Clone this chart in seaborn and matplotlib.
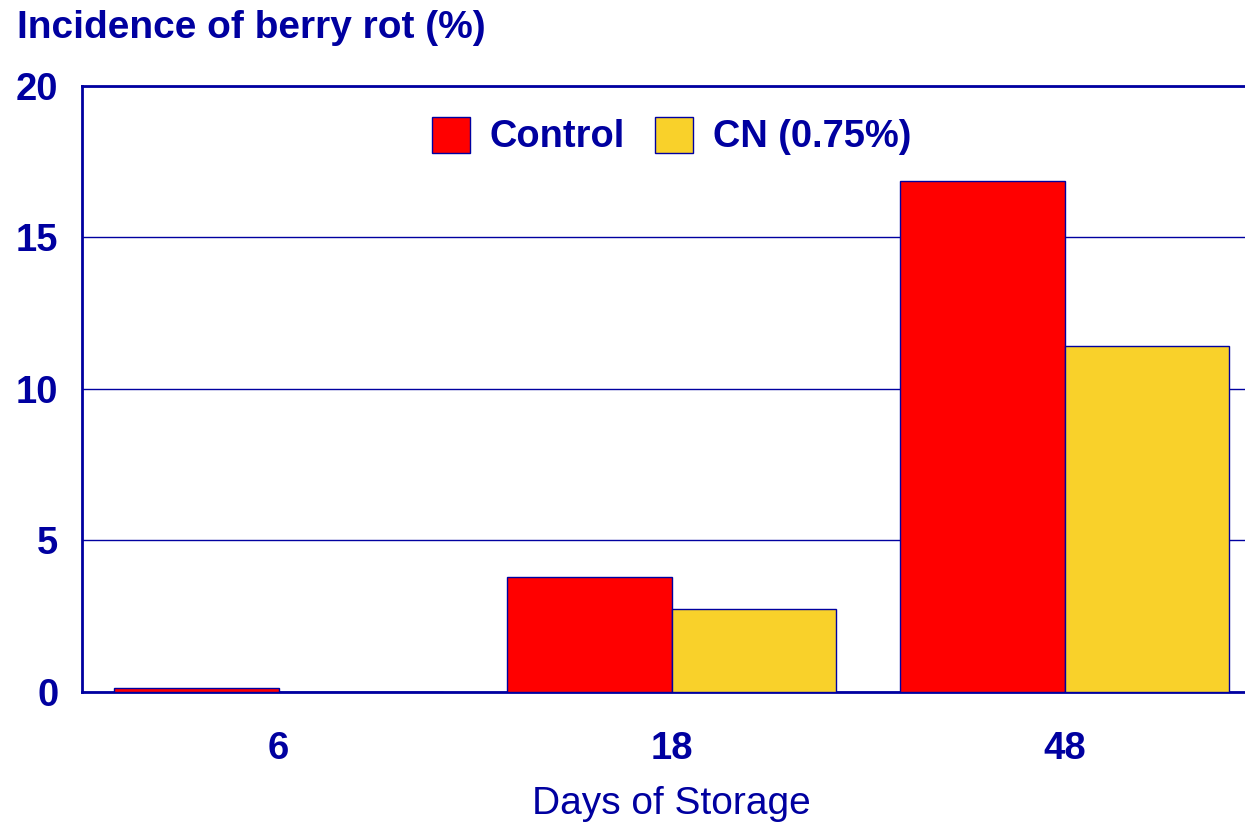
import matplotlib
matplotlib.use("Agg")
import matplotlib.pyplot as plt
import seaborn as sns
import pandas as pd

days = ["6", "18", "48"]
series_names = ["Control", "CN (0.75%)"]
control_vals = [0.13, 3.80, 16.85]
cn_vals = [0.0, 2.72, 11.41]
y_ticks = [0, 5, 10, 15, 20]

NAVY = "#0000A0"
colors = ["#FF0000", "#F9D12A"]

sns.set_theme(style="white")
plt.rcParams["font.family"] = ["Liberation Sans", "DejaVu Sans"]

df = pd.DataFrame({
    "Days": days * 2,
    "Treatment": [series_names[0]] * 3 + [series_names[1]] * 3,
    "Value": control_vals + cn_vals,
})

fig = plt.figure(figsize=(12.45, 8.22), dpi=100)
ax = fig.add_axes([82 / 1245, (822 - 691.7) / 822, 1179 / 1245, 606 / 822])

sns.barplot(data=df, x="Days", y="Value", hue="Treatment", order=days,
            hue_order=series_names, palette=colors, width=0.835, gap=0,
            edgecolor=NAVY, linewidth=1.0, saturation=1, errorbar=None, ax=ax,
            zorder=3)

ax.set_xlim(-0.5, 2.5)
ax.set_ylim(0, 20)
ax.set_yticks(y_ticks)
ax.set_yticklabels([str(t) for t in y_ticks])
ax.yaxis.grid(True, color=NAVY, linewidth=1.0, zorder=0)
ax.xaxis.grid(False)
ax.set_axisbelow(True)

for side in ["left", "bottom", "top"]:
    ax.spines[side].set_color(NAVY)
    ax.spines[side].set_linewidth(2.0)
ax.spines["right"].set_visible(False)

ax.tick_params(axis="both", length=0, colors=NAVY)
ax.tick_params(axis="y", pad=17, labelsize=27.5)
ax.tick_params(axis="x", pad=28, labelsize=27.5)
for lab in ax.get_xticklabels() + ax.get_yticklabels():
    lab.set_fontweight("bold")
    lab.set_color(NAVY)

ax.set_xlabel("Days of Storage", fontsize=28, color=NAVY, labelpad=14)
ax.set_ylabel("")

fig.text(17 / 1245, 1 - 28 / 822, "Incidence of berry rot (%)", fontsize=28,
         fontweight="bold", color=NAVY, ha="left", va="center")

leg = ax.legend(loc="center", bbox_to_anchor=(0.5, 0.917), ncol=2, frameon=False,
                handlelength=1.0, handleheight=1.08, handletextpad=0.52,
                columnspacing=0.8, prop={"weight": "bold", "size": 27.4})
for t in leg.get_texts():
    t.set_color(NAVY)

fig.savefig("out.png", dpi=100)
